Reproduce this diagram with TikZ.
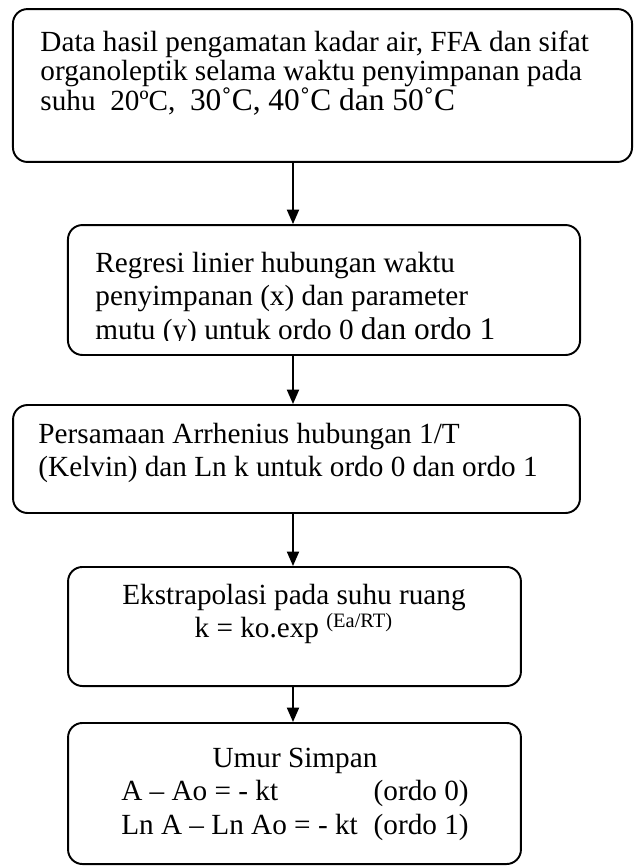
\documentclass[tikz,border=0pt]{standalone}
\usepackage{fontspec}
\setmainfont{Liberation Serif}
\usetikzlibrary{arrows.meta}

\tikzset{%
   stage/.style={
    draw,
    line width=0.8pt,
    rounded corners=6pt,
    inner sep=0pt
  },
   stage text/.style={
    inner sep=0pt,
    align=left,
    font=\fontsize{12.1}{13.8}\selectfont
  },
}

\begin{document}
\begin{tikzpicture}[x=0.414pt, y=-0.414pt, >={Triangle[width=5pt,length=6pt]}]
\useasboundingbox (0,0) rectangle (637,866);
%=========================================================================================================
% Boxes
%=========================================================================================================

%Box 1 - data
\node [stage, minimum width=256.3pt, minimum height=63.3pt] (box1) at (322.5,85.5) {};

%Box 2 - regresi
\node [stage, minimum width=212pt, minimum height=53.8pt] (box2) at (324,290) {};

%Box 3 - arrhenius
\node [stage, minimum width=234.7pt, minimum height=44.7pt] (box3) at (296.5,459) {};

%Box 4 - ekstrapolasi
\node [stage, minimum width=187.5pt, minimum height=49.3pt] (box4) at (294.5,626.5) {};

%Box 5 - umur simpan
\node [stage, minimum width=187.5pt, minimum height=58.4pt] (box5) at (294.5,793.5) {};

%=========================================================================================================
% Texts
%=========================================================================================================

\node [stage text, anchor=west, font=\fontsize{12.1}{12.2}\selectfont] (data) at (40,73)
  {Data hasil pengamatan kadar air, FFA dan sifat\\
   organoleptik selama waktu penyimpanan pada\\
   suhu\ \ 20ºC,\ \ {\fontsize{13}{15}\selectfont 30˚C, 40˚C dan 50˚C}};

%text of box 2 is cut off above its bottom line
\coordinate (cut) at (0,340);
\begin{scope}
\clip (box2.north west) rectangle (box2.east |- cut);
\node [stage text, anchor=west] (regresi) at (95,299)
  {Regresi linier hubungan waktu\\
   penyimpanan (x) dan parameter\\
   mutu (y) untuk ordo 0 {\fontsize{13}{15}\selectfont dan ordo 1}};
\end{scope}

\node [stage text, anchor=west] (arrhenius) at (38,453)
  {Persamaan Arrhenius hubungan 1/T\\
   (Kelvin) dan Ln k untuk ordo 0 dan ordo 1};

\node [stage text, align=center] (ekstra) at (294,614)
  {Ekstrapolasi pada suhu ruang\\
   k = ko.exp \textsuperscript{(Ea/RT)}};

\node [stage text] (umur) at (295,794)
  {\begin{tabular}{@{}l@{\hspace{6.6pt}}l@{}}
   \multicolumn{2}{c}{Umur Simpan}\\
   A – Ao = - kt & (ordo 0)\\
   Ln A – Ln Ao = - kt & (ordo 1)
   \end{tabular}};

%=========================================================================================================
% Draw connections
%=========================================================================================================
\coordinate (ax) at (293,0);

\foreach \a/\b in {box1/box2, box2/box3, box3/box4, box4/box5}
  \draw [->, line width=0.8pt] (\a.south -| ax) -- (\b.north -| ax);

\end{tikzpicture}
\end{document}
